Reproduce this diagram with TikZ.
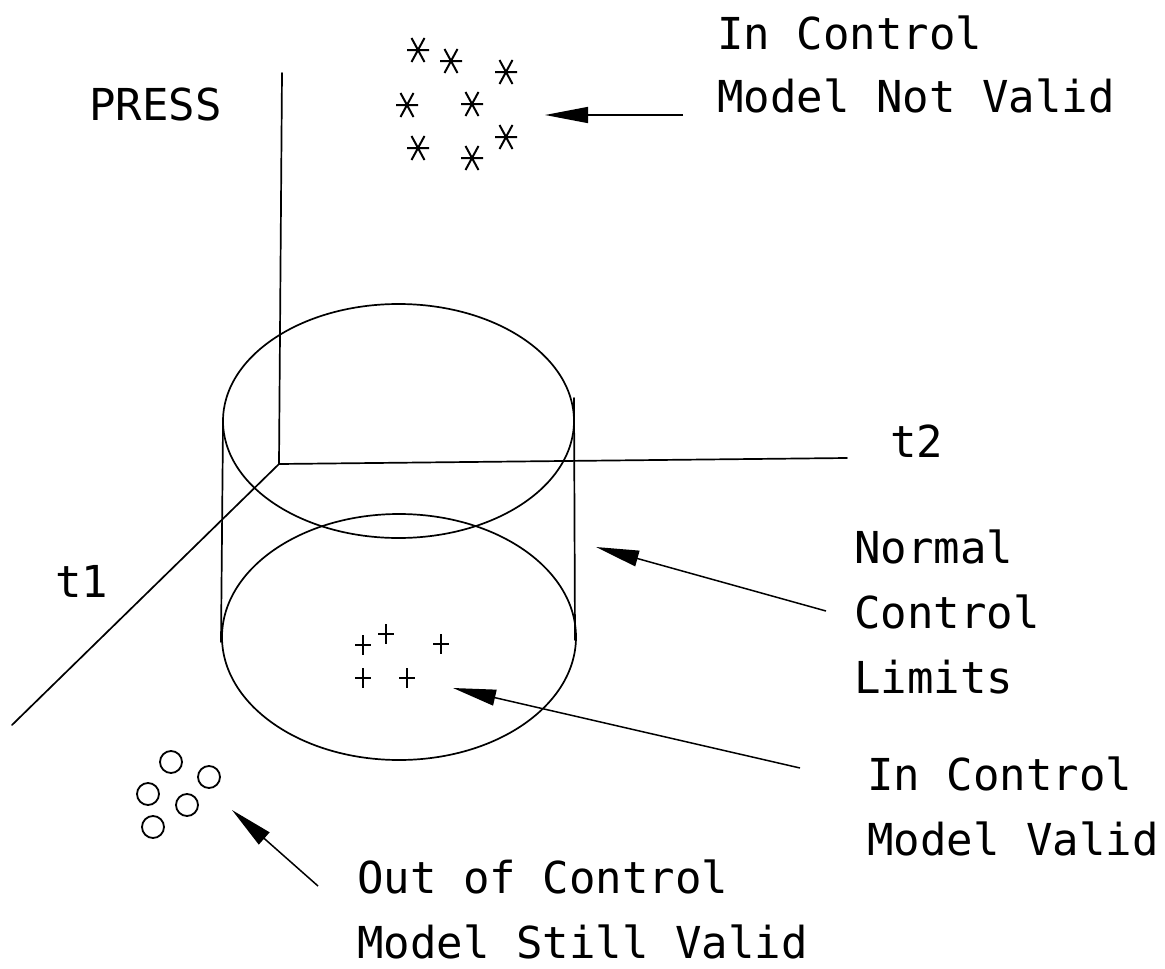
\documentclass[tikz,border=0pt]{standalone}
\usepackage{fontspec}
\newfontfamily\plotfont{DejaVu Sans Mono}
\usetikzlibrary{arrows.meta}
\begin{document}
\begin{tikzpicture}[x=1pt,y=-1pt,
  line/.style={line width=1.7pt, line cap=round},
  lbl/.style={font=\plotfont\fontsize{44}{54}\selectfont, anchor=base west, inner sep=0pt},
  pointer/.style={line width=1.5pt, -{Triangle[length=43pt,width=16pt]}},
  starmark/.style={minimum size=30pt, inner sep=0pt,
    path picture={\draw[line width=2pt, shift={(path picture bounding box.center)}]
      (-11,0) -- (11,0) (-6.5,-12) -- (6.5,12) (6.5,-12) -- (-6.5,12);}},
  plusmark/.style={minimum size=26pt, inner sep=0pt,
    path picture={\draw[line width=2pt, shift={(path picture bounding box.center)}]
      (0,-10) -- (0,10) (-8,0) -- (8,0);}},
  ringmark/.style={circle, draw, line width=1.8pt, minimum size=22pt, inner sep=0pt}]
\useasboundingbox (0,0) rectangle (1165,969);

% axes
\coordinate (O) at (279,464);
\coordinate (press) at (282,73);
\coordinate (t2end) at (847,458);
\coordinate (t1end) at (12,725);
\draw[line] (O) -- (press);
\draw[line] (O) -- (t2end);
\draw[line] (O) -- (t1end);

% cylinder of normal control limits
\draw[line] (398.5,421) ellipse [x radius=175.5, y radius=117];
\draw[line] (399,637) ellipse [x radius=177, y radius=123];
\draw[line] (223,425) -- (221,642);
\draw[line] (574,398) -- (575,640);

% axis labels
\node[lbl] (lpress) at (89,120) {PRESS};
\node[lbl] (lt2) at (890,457) {t2};
\node[lbl] (lt1) at (55,597) {t1};

% in control, model not valid
\foreach \p [count=\i] in {(418,50),(451,61),(506,72),(407,105),(472,104),(506,137),(418,148),(472,158)}
  \node[starmark] (s\i) at \p {};
% in control, model valid
\foreach \p [count=\i] in {(363,645),(386,634),(441,644),(363,678),(407,678)}
  \node[plusmark] (p\i) at \p {};
% out of control, model still valid
\foreach \p [count=\i] in {(171,762),(209,777),(148,794),(187,805),(153,827)}
  \node[ringmark] (c\i) at \p {};

% labels
\node[lbl] (a1) at (717,49) {In Control};
\node[lbl] (a2) at (717,112) {Model Not Valid};
\node[lbl] (b1) at (854,563) {Normal};
\node[lbl] (b2) at (854,628) {Control};
\node[lbl] (b3) at (854,693) {Limits};
\node[lbl] (d1) at (867,790) {In Control};
\node[lbl] (d2) at (867,855) {Model Valid};
\node[lbl] (e1) at (357,893) {Out of Control};
\node[lbl] (e2) at (357,958) {Model Still Valid};

% pointers
\coordinate (fromA) at (683,115);  \coordinate (toA) at (545,115);
\coordinate (fromB) at (826,611);  \coordinate (toB) at (596,547);
\coordinate (fromD) at (800,768);  \coordinate (toD) at (453,688);
\coordinate (fromE) at (318,886);  \coordinate (toE) at (232,810);
\draw[pointer] (fromA) -- (toA);
\draw[pointer] (fromB) -- (toB);
\draw[pointer] (fromD) -- (toD);
\draw[pointer] (fromE) -- (toE);
\end{tikzpicture}
\end{document}
